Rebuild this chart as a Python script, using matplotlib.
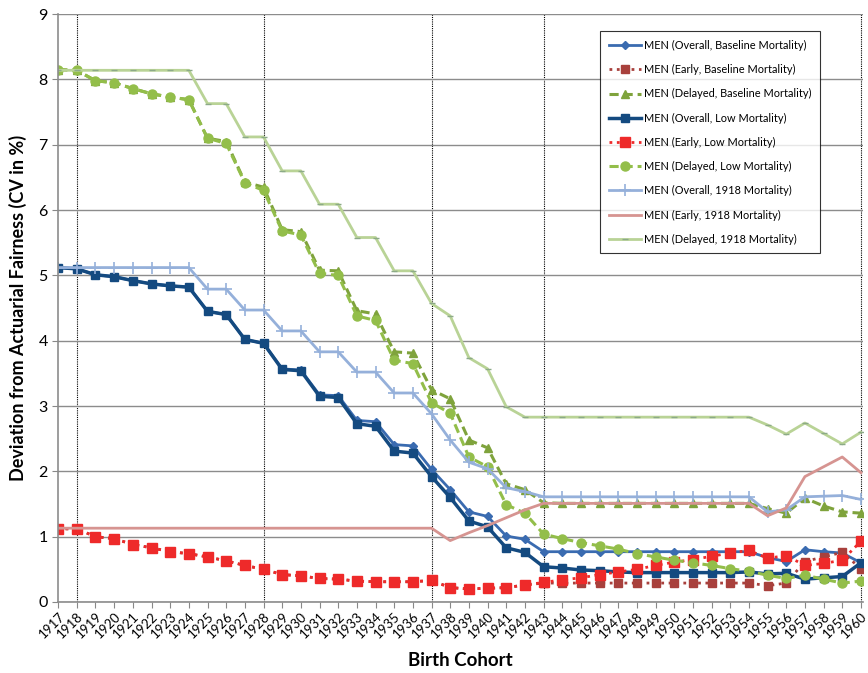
import matplotlib.pyplot as plt

plt.rcParams['font.family'] = ['Lato', 'DejaVu Sans']

years = list(range(1917, 1961))

# MEN, Baseline Mortality
overall_base = [5.12, 5.10, 5.01, 4.98, 4.92, 4.87, 4.84, 4.82, 4.45, 4.40,
                4.02, 3.96, 3.57, 3.55, 3.17, 3.16, 2.78, 2.76, 2.41, 2.39,
                2.03, 1.72, 1.38, 1.31, 1.01, 0.96, 0.77, 0.77, 0.77, 0.77,
                0.77, 0.77, 0.77, 0.77, 0.77, 0.77, 0.77, 0.77, 0.68, 0.62,
                0.80, 0.77, 0.75, 0.60]
early_base = [1.12, 1.12, 1.00, 0.97, 0.88, 0.83, 0.77, 0.74, 0.69, 0.63,
              0.56, 0.50, 0.42, 0.40, 0.36, 0.35, 0.32, 0.31, 0.31, 0.31,
              0.33, 0.22, 0.20, 0.21, 0.22, 0.26, 0.29, 0.29, 0.29, 0.29,
              0.29, 0.29, 0.29, 0.29, 0.29, 0.29, 0.29, 0.29, 0.25, 0.29,
              0.62, 0.69, 0.76, 0.51]
delayed_base = [8.15, 8.14, 7.98, 7.95, 7.86, 7.78, 7.73, 7.69, 7.10, 7.05,
                6.43, 6.35, 5.70, 5.67, 5.08, 5.07, 4.46, 4.41, 3.83, 3.81,
                3.25, 3.11, 2.48, 2.36, 1.81, 1.72, 1.52, 1.51, 1.51, 1.51,
                1.51, 1.51, 1.51, 1.51, 1.51, 1.51, 1.51, 1.51, 1.43, 1.36,
                1.59, 1.47, 1.38, 1.36]

# MEN, Low Mortality
overall_low = [5.12, 5.10, 5.01, 4.98, 4.92, 4.87, 4.84, 4.82, 4.45, 4.40,
               4.02, 3.96, 3.56, 3.54, 3.15, 3.13, 2.73, 2.69, 2.31, 2.28,
               1.92, 1.60, 1.24, 1.15, 0.83, 0.76, 0.54, 0.52, 0.49, 0.48,
               0.46, 0.45, 0.45, 0.45, 0.45, 0.45, 0.45, 0.46, 0.43, 0.44,
               0.35, 0.37, 0.39, 0.60]
early_low = [1.12, 1.12, 1.00, 0.97, 0.88, 0.83, 0.77, 0.74, 0.69, 0.63,
             0.56, 0.50, 0.42, 0.40, 0.36, 0.35, 0.32, 0.31, 0.31, 0.31,
             0.33, 0.22, 0.20, 0.21, 0.22, 0.26, 0.30, 0.34, 0.37, 0.42,
             0.46, 0.50, 0.56, 0.61, 0.65, 0.70, 0.75, 0.79, 0.67, 0.71,
             0.56, 0.59, 0.64, 0.93]
delayed_low = [8.15, 8.14, 7.98, 7.95, 7.86, 7.78, 7.73, 7.69, 7.10, 7.02,
               6.42, 6.30, 5.68, 5.62, 5.03, 5.00, 4.38, 4.31, 3.70, 3.65,
               3.05, 2.89, 2.22, 2.07, 1.49, 1.36, 1.04, 0.97, 0.91, 0.86,
               0.81, 0.74, 0.69, 0.64, 0.60, 0.56, 0.51, 0.47, 0.41, 0.36,
               0.41, 0.35, 0.29, 0.32]

# MEN, 1918 Mortality
overall_1918 = [5.12, 5.12, 5.12, 5.12, 5.12, 5.12, 5.12, 5.12, 4.79, 4.79,
                4.47, 4.47, 4.15, 4.15, 3.83, 3.83, 3.52, 3.52, 3.20, 3.20,
                2.88, 2.48, 2.14, 2.04, 1.75, 1.69, 1.61, 1.61, 1.61, 1.61,
                1.61, 1.61, 1.61, 1.61, 1.61, 1.61, 1.61, 1.61, 1.38, 1.41,
                1.61, 1.62, 1.63, 1.57]
early_1918 = [1.13, 1.13, 1.13, 1.13, 1.13, 1.13, 1.13, 1.13, 1.13, 1.13,
              1.13, 1.13, 1.13, 1.13, 1.13, 1.13, 1.13, 1.13, 1.13, 1.13,
              1.13, 0.94, 1.06, 1.17, 1.29, 1.41, 1.51, 1.51, 1.51, 1.51,
              1.51, 1.51, 1.51, 1.51, 1.51, 1.51, 1.51, 1.51, 1.32, 1.44,
              1.92, 2.07, 2.22, 1.98]
delayed_1918 = [8.14, 8.14, 8.14, 8.14, 8.14, 8.14, 8.14, 8.14, 7.63, 7.63,
                7.12, 7.12, 6.60, 6.60, 6.09, 6.09, 5.58, 5.58, 5.07, 5.07,
                4.57, 4.38, 3.74, 3.57, 2.99, 2.83, 2.83, 2.83, 2.83, 2.83,
                2.83, 2.83, 2.83, 2.83, 2.83, 2.83, 2.83, 2.83, 2.71, 2.57,
                2.74, 2.58, 2.42, 2.60]

marker_years = [1918, 1928, 1937, 1943, 1960]

fig = plt.figure(figsize=(8.68, 6.73), dpi=100)
ax = fig.add_axes([0.067, 0.1055, 0.927, 0.8735])

ax.plot(years, overall_base, color="#3A6BB0", lw=2, marker="D", ms=4,
        label="MEN (Overall, Baseline Mortality)")
ax.plot(years, early_base, color="#A8403C", lw=2, ls=":", marker="s", ms=6,
        label="MEN (Early, Baseline Mortality)")
ax.plot(years, delayed_base, color="#7FA33C", lw=2.2, ls=(0, (3, 1.6)),
        marker="^", ms=6, label="MEN (Delayed, Baseline Mortality)")
ax.plot(years, overall_low, color="#144A80", lw=2.5, marker="s", ms=6,
        label="MEN (Overall, Low Mortality)")
ax.plot(years, early_low, color="#EE2A2A", lw=2, ls=":", marker="s", ms=6.5,
        label="MEN (Early, Low Mortality)")
ax.plot(years, delayed_low, color="#93BE4A", lw=2.2, ls=(0, (3, 1.6)),
        marker="o", ms=6.5, label="MEN (Delayed, Low Mortality)")
ax.plot(years, overall_1918, color="#95B0DA", lw=2, marker="+", ms=8, mew=1.2,
        label="MEN (Overall, 1918 Mortality)")
ax.plot(years, early_1918, color="#D69491", lw=2,
        label="MEN (Early, 1918 Mortality)")
ax.plot(years, delayed_1918, color="#B9D396", lw=2, marker="_", ms=5,
        mec="#8CAA88", label="MEN (Delayed, 1918 Mortality)")

for yr in marker_years:
    ax.axvline(yr, color="black", lw=0.8, ls=(0, (1, 1)), zorder=0.5)

ax.set_xlim(1917, 1960.1)
ax.set_ylim(0, 9)
ax.set_yticks(range(0, 10))
ax.set_xticks(years)
ax.set_xticklabels([str(y) for y in years], rotation=45, ha="right",
                   rotation_mode="anchor", fontsize=9.5)
ax.tick_params(axis="y", labelsize=11.5, length=4, color="#888888")
ax.tick_params(axis="x", length=4, color="#888888", pad=2)
ax.grid(axis="y", color="#8C8C8C", lw=1)
ax.set_axisbelow(True)
for side in ["top", "right"]:
    ax.spines[side].set_visible(False)
for side in ["left", "bottom"]:
    ax.spines[side].set_color("#8C8C8C")
    ax.spines[side].set_linewidth(1.2)

ax.set_xlabel("Birth Cohort", fontsize=13.5, fontweight="bold", labelpad=8)
ax.set_ylabel("Deviation from Actuarial Fairness (CV in %)", fontsize=13,
              fontweight="bold", labelpad=8)

leg = ax.legend(loc="upper right", bbox_to_anchor=(0.947, 0.971), fontsize=7.9,
                frameon=True, fancybox=False, edgecolor="black",
                handlelength=2.9, labelspacing=1.2, borderpad=0.8,
                handletextpad=0.3, borderaxespad=0)
leg.get_frame().set_linewidth(0.8)

plt.savefig("out.png", dpi=100)
